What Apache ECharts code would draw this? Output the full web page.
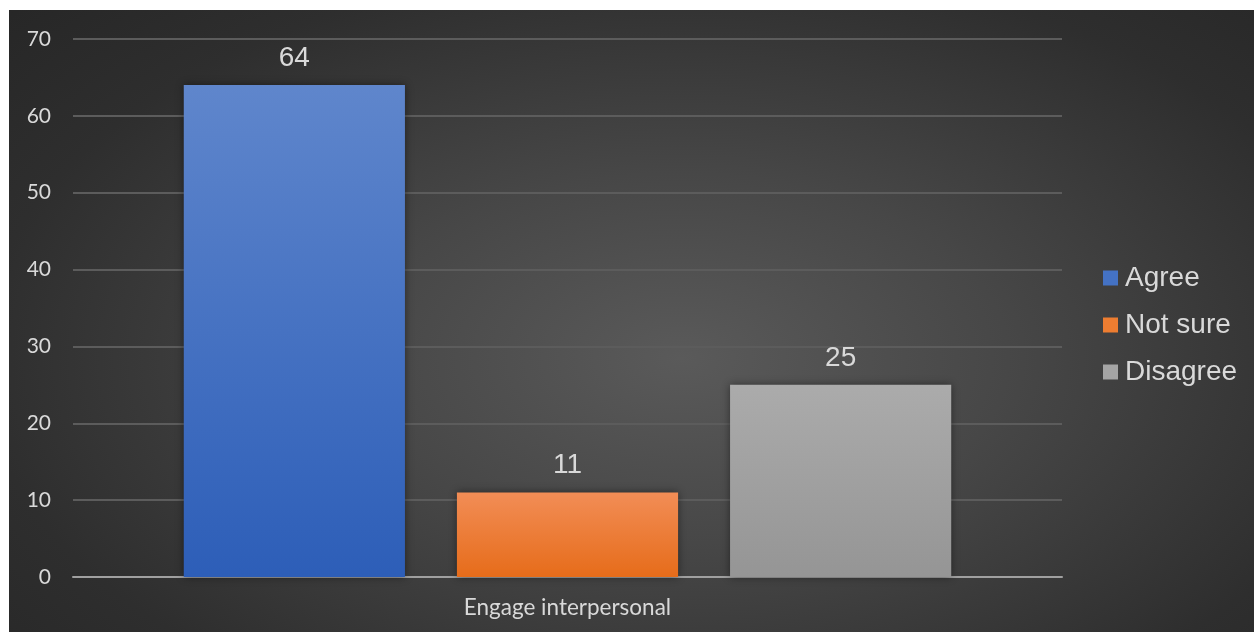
<!DOCTYPE html>
<html>
<head>
<meta charset="utf-8">
<script src="https://cdn.jsdelivr.net/npm/echarts@6/dist/echarts.min.js"></script>
<style>
html,body{margin:0;padding:0;background:#fff;}
#bg{position:absolute;left:9px;top:10px;width:1245px;height:622px;
background:radial-gradient(ellipse 75% 85% at 54% 56%, #5a5a5a 0%, #474747 35%, #2e2e2e 75%, #262626 100%);}
#chart{position:absolute;left:0;top:0;width:1245px;height:622px;}
</style>
</head>
<body>
<div id="bg"><div id="chart"></div></div>
<script>
const categories = ["Engage interpersonal"];
const seriesNames = ["Agree", "Not sure", "Disagree"];
const agreeValues = [64];
const notSureValues = [11];
const disagreeValues = [25];
const yTicks = [0, 10, 20, 30, 40, 50, 60, 70];

const chart = echarts.init(document.getElementById('chart'), null, {renderer:'canvas'});
function grad(top, bottom){
  return new echarts.graphic.LinearGradient(0,0,0,1,[{offset:0,color:top},{offset:1,color:bottom}]);
}
const colors = [grad('#5f86cc','#2d5eb8'), grad('#f28d56','#e66c1a'), grad('#ababab','#959595')];
const legendColors = ['#4472c4','#ed7d31','#a5a5a5'];
const dataSets = [agreeValues, notSureValues, disagreeValues];

chart.setOption({
  backgroundColor: 'transparent',
  animation: false,
  grid: {left:64, right:192, top:29, bottom:55, containLabel:false},
  legend: {
    orient:'vertical', left:1089, top:249, itemWidth:15, itemHeight:15, itemGap:19,
    icon:'rect',
    textStyle:{color:'#d9d9d9', fontSize:28, fontFamily:'Liberation Sans, Arial, sans-serif', padding:[0,0,0,2]},
    data: seriesNames.map((n,i)=>({name:n, itemStyle:{color:legendColors[i]}}))
  },
  xAxis: {
    type:'category', data: categories,
    axisLine:{lineStyle:{color:'#a0a0a0', width:2}},
    axisTick:{show:false},
    axisLabel:{color:'#d9d9d9', fontSize:22.5, fontFamily:'Lato, Open Sans, sans-serif', margin:19}
  },
  yAxis: {
    type:'value', min:0, max:70, interval:10,
    axisLine:{show:false}, axisTick:{show:false},
    axisLabel:{color:'#d9d9d9', fontSize:21, fontFamily:'Lato, Open Sans, sans-serif', margin:22,
      formatter: v => yTicks.includes(v) ? String(v) : ''},
    splitLine:{lineStyle:{color:'#5c5c5c', width:2}}
  },
  series: seriesNames.map((n,i)=>({
    name:n, type:'bar', data: dataSets[i],
    barGap:'23.5%', barCategoryGap:'22.4%',
    itemStyle:{color:colors[i], shadowBlur:8, shadowColor:'rgba(0,0,0,0.45)', shadowOffsetX:0, shadowOffsetY:0},
    label:{show:true, position:'top', distance:13, color:'#d9d9d9', fontSize:28, fontFamily:'Liberation Sans, Arial, sans-serif'}
  }))
});
</script>
</body>
</html>
